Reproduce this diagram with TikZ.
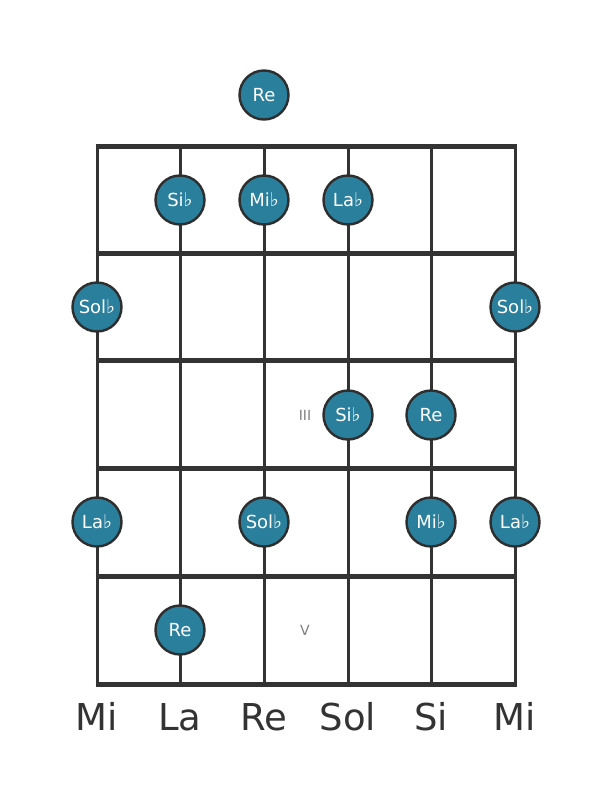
\documentclass[tikz,border=0pt]{standalone}
\usepackage{fontspec}
\setmainfont{DejaVu Sans}
\begin{document}
\begin{tikzpicture}[x=1pt,y=-1pt,
  note/.style={circle,draw=black!82,line width=2.4pt,fill=noteblue,minimum size=49pt,inner sep=0pt,text=white,font=\fontsize{18}{18}\selectfont},
  fret/.style={line width=5pt,draw=black!80},
  strg/.style={line width=3pt,draw=black!80},
  lbl/.style={text=black!80,font=\fontsize{37}{37}\selectfont,anchor=base},
  fretno/.style={text=black!50,font=\fontsize{14}{14}\selectfont}]
\definecolor{noteblue}{HTML}{2A7F9C}
\useasboundingbox[fill=white] (0,0) rectangle (611,801);
% strings
\foreach \x in {97,180,264,348,431,515} \draw[strg] (\x,146) -- (\x,684);
% frets
\foreach \y in {146,253,360,468,576,684} \draw[fret] (95.5,\y) -- (516.5,\y);
\def\fl{{\fontsize{19}{19}\selectfont♭}}
% notes
\node[note] (n0) at (264,95) {Re};
\node[note] (n1) at (180,200) {Si\fl};
\node[note] (n2) at (264,200) {Mi\fl};
\node[note] (n3) at (348,200) {La\fl};
\node[note] (n4) at (97,307) {Sol\fl};
\node[note] (n5) at (515,307) {Sol\fl};
\node[fretno] (p3) at (305,415) {III};
\node[note] (n6) at (348,415) {Si\fl};
\node[note] (n7) at (431,415) {Re};
\node[note] (n8) at (97,522) {La\fl};
\node[note] (n9) at (264,522) {Sol\fl};
\node[note] (n10) at (431,522) {Mi\fl};
\node[note] (n11) at (515,522) {La\fl};
\node[note] (n12) at (180,630) {Re};
\node[fretno] (p5) at (305,630) {V};
% string names
\node[lbl] (s1) at (97,730) {Mi};
\node[lbl] (s2) at (180,730) {La};
\node[lbl] (s3) at (264,730) {Re};
\node[lbl] (s4) at (348,730) {Sol};
\node[lbl] (s5) at (431,730) {Si};
\node[lbl] (s6) at (515,730) {Mi};
\end{tikzpicture}
\end{document}
